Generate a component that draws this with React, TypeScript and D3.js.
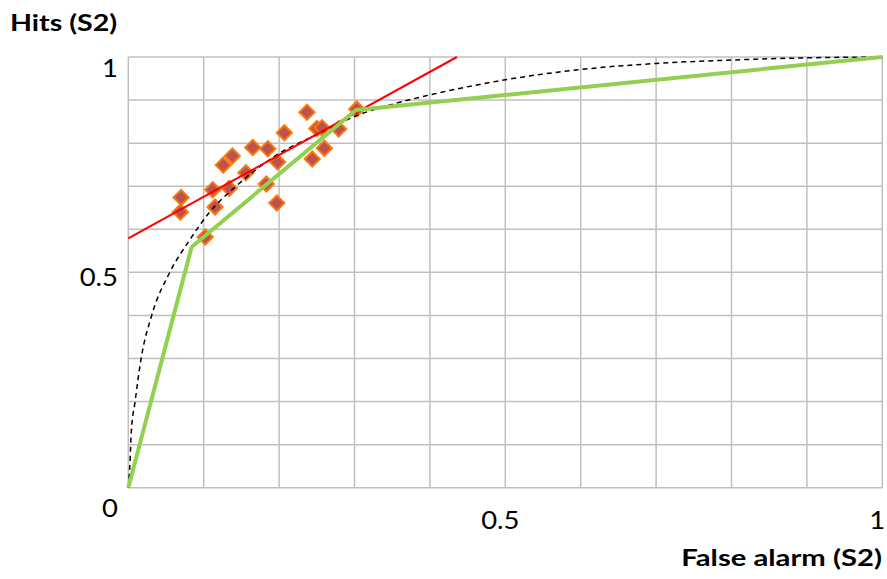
import React, { useEffect, useRef } from "react";
import * as d3 from "d3";

// observed (false alarm, hit) pairs
const obsFA = [0.07, 0.069, 0.102, 0.115, 0.112, 0.134, 0.126, 0.138, 0.156, 0.165, 0.185, 0.198, 0.183, 0.197, 0.207, 0.237, 0.25, 0.257, 0.279, 0.26, 0.244, 0.303];
const obsHit = [0.674, 0.64, 0.582, 0.652, 0.692, 0.695, 0.749, 0.77, 0.731, 0.79, 0.787, 0.756, 0.705, 0.661, 0.824, 0.872, 0.834, 0.836, 0.833, 0.788, 0.763, 0.879];

// dashed theoretical ROC curve
const curveFA = [0, 0.002, 0.004, 0.009, 0.017, 0.031, 0.055, 0.081, 0.108, 0.143, 0.2, 0.25, 0.3, 0.35, 0.4, 0.5, 0.6, 0.7, 0.8, 0.9, 1];
const curveHit = [0, 0.05, 0.13, 0.2, 0.3, 0.4, 0.5, 0.574, 0.64, 0.7, 0.776, 0.82, 0.862, 0.89, 0.912, 0.947, 0.971, 0.985, 0.993, 0.998, 1];

// green piecewise ROC
const pieceFA = [0, 0.084, 0.302, 1];
const pieceHit = [0, 0.559, 0.877, 1];

// red linear fit: intercept and slope
const fitIntercept = 0.579;
const fitSlope = 0.966;

const xTickLabels = ["0.5", "1"];
const yTickLabels = ["0", "0.5", "1"];

const W = 887;
const H = 579;
const FONT = "Lato, 'Open Sans', sans-serif";

const App: React.FC = () => {
  const svgRef = useRef<SVGSVGElement>(null);

  useEffect(() => {
    const svg = d3.select(svgRef.current);
    svg.selectAll("*").remove();

    const x = d3.scaleLinear().domain([0, 1]).range([128.3, 882.3]);
    const y = d3.scaleLinear().domain([0, 1]).range([487.7, 57]);

    const grid = svg.append("g");
    const ticks = d3.range(0, 11).map((i) => i / 10);
    grid
      .selectAll("line.v")
      .data(ticks)
      .join("line")
      .attr("class", "v")
      .attr("x1", (d) => x(d))
      .attr("x2", (d) => x(d))
      .attr("y1", y(0))
      .attr("y2", y(1))
      .attr("stroke", "#bfbfbf")
      .attr("stroke-width", 1.5);
    grid
      .selectAll("line.h")
      .data(ticks)
      .join("line")
      .attr("class", "h")
      .attr("y1", (d) => y(d))
      .attr("y2", (d) => y(d))
      .attr("x1", x(0))
      .attr("x2", x(1))
      .attr("stroke", "#bfbfbf")
      .attr("stroke-width", 1.5);

    // markers
    const pts = obsFA.map((f, i) => [f, obsHit[i]]);
    const diamond = d3.symbol().type(d3.symbolSquare).size(115);
    svg
      .append("g")
      .selectAll("path")
      .data(pts)
      .join("path")
      .attr("d", diamond)
      .attr("transform", (d) => `translate(${x(d[0])},${y(d[1])}) rotate(45)`)
      .attr("fill", "#c0504d")
      .attr("stroke", "#f7780f")
      .attr("stroke-width", 2);

    // dashed ROC
    const line = d3
      .line<number[]>()
      .x((d) => x(d[0]))
      .y((d) => y(d[1]));
    const curvePts = curveFA.map((f, i) => [f, curveHit[i]]);
    svg
      .append("path")
      .datum(curvePts)
      .attr("d", line.curve(d3.curveMonotoneX))
      .attr("fill", "none")
      .attr("stroke", "#000")
      .attr("stroke-width", 1.5)
      .attr("stroke-dasharray", "5,4");

    // red fit line, clipped at hit = 1
    const xEnd = (1 - fitIntercept) / fitSlope;
    svg
      .append("line")
      .attr("x1", x(0))
      .attr("y1", y(fitIntercept))
      .attr("x2", x(xEnd))
      .attr("y2", y(1))
      .attr("stroke", "#ff0000")
      .attr("stroke-width", 2);

    // green piecewise line
    const piecePts = pieceFA.map((f, i) => [f, pieceHit[i]]);
    svg
      .append("path")
      .datum(piecePts)
      .attr("d", line.curve(d3.curveLinear))
      .attr("fill", "none")
      .attr("stroke", "#92d050")
      .attr("stroke-width", 4)
      .attr("stroke-linejoin", "round");

    // tick labels (the source picture is stretched sideways, so are the texts)
    const yOffsets = [20, 5, 11];
    svg
      .append("g")
      .selectAll("text")
      .data(yTickLabels)
      .join("text")
      .attr("transform", (d, i) => `translate(118,${y(+d) + yOffsets[i]}) scale(1.12,1)`)
      .attr("dy", "0.36em")
      .attr("text-anchor", "end")
      .attr("font-family", FONT)
      .attr("font-size", 24.5)
      .text((d) => d);
    svg
      .append("g")
      .selectAll("text")
      .data(xTickLabels)
      .join("text")
      .attr("transform", (d) => `translate(${x(+d) - 5},529) scale(1.12,1)`)
      .attr("text-anchor", "middle")
      .attr("font-family", FONT)
      .attr("font-size", 24.5)
      .text((d) => d);

    svg
      .append("text")
      .attr("transform", "translate(10,31) scale(1.3,1)")
      .attr("font-family", FONT)
      .attr("font-weight", "bold")
      .attr("font-size", 22)
      .text("Hits (S2)");
    svg
      .append("text")
      .attr("transform", "translate(882,566) scale(1.33,1)")
      .attr("text-anchor", "end")
      .attr("font-family", FONT)
      .attr("font-weight", "bold")
      .attr("font-size", 22)
      .text("False alarm (S2)");
  }, []);

  return (
    <svg
      ref={svgRef}
      width={W}
      height={H}
      style={{ position: "absolute", left: 0, top: 0, background: "#fff" }}
    />
  );
};

export default App;
